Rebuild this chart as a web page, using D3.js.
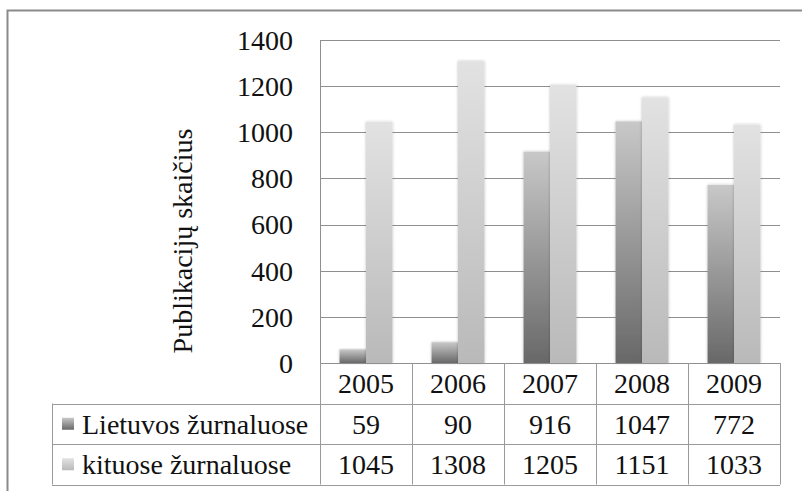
<!DOCTYPE html>
<html>
<head>
<meta charset="utf-8">
<script src="https://cdn.jsdelivr.net/npm/d3@7"></script>
<style>
  body { margin: 0; background: #fff; }
  text { font-family: "Liberation Serif", "DejaVu Serif", serif; fill: #111; }
</style>
</head>
<body>
<div id="main"></div>
<script>
var years = ["2005", "2006", "2007", "2008", "2009"];
var seriesNames = ["Lietuvos žurnaluose", "kituose žurnaluose"];
var lietuvos = [59, 90, 916, 1047, 772];
var kituose = [1045, 1308, 1205, 1151, 1033];
var yTicks = [0, 200, 400, 600, 800, 1000, 1200, 1400];
var yTitle = "Publikacijų skaičius";

var width = 802, height = 491;
var plotLeft = 320, plotRight = 780, plotTop = 40, base = 363;
var rowH = 40.5;
var fs = "28px";

var svg = d3.select("#main")
  .append("svg")
  .attr("width", width)
  .attr("height", height);

// gradients for the two series
var defs = svg.append("defs");
var grads = [["g0", "#c8c8c8", "#686868"], ["g1", "#e2e2e2", "#b9b9b9"]];
grads.forEach(function(g) {
  var lg = defs.append("linearGradient")
    .attr("id", g[0]).attr("x1", 0).attr("y1", 0).attr("x2", 0).attr("y2", 1);
  lg.append("stop").attr("offset", "0%").attr("stop-color", g[1]);
  lg.append("stop").attr("offset", "100%").attr("stop-color", g[2]);
});
var f = defs.append("filter").attr("id", "soft")
  .attr("x", "-30%").attr("y", "-10%").attr("width", "160%").attr("height", "120%");
f.append("feGaussianBlur").attr("in", "SourceAlpha").attr("stdDeviation", 1.5).attr("result", "b");
f.append("feComponentTransfer").attr("in", "b").attr("result", "s")
  .append("feFuncA").attr("type", "linear").attr("slope", 0.25);
var fm = f.append("feMerge");
fm.append("feMergeNode").attr("in", "s");
fm.append("feMergeNode").attr("in", "SourceGraphic");

// outer chart border
svg.append("rect")
  .attr("x", 7.5).attr("y", 10.5)
  .attr("width", 802).attr("height", 500)
  .attr("fill", "none")
  .attr("stroke", "#8a8a8a")
  .attr("stroke-width", 2);

var y = d3.scaleLinear().domain([0, 1400]).range([base, plotTop]);
var x0 = d3.scaleBand().domain(years).range([plotLeft, plotRight]);
var x1 = d3.scaleBand().domain([0, 1]).range([0, x0.bandwidth()]).paddingOuter(0.74);

// gridlines
svg.append("g").selectAll("line")
  .data(yTicks.slice(1))
  .enter().append("line")
  .attr("x1", plotLeft).attr("x2", plotRight)
  .attr("y1", function(d) { return Math.round(y(d)) + 0.5; })
  .attr("y2", function(d) { return Math.round(y(d)) + 0.5; })
  .attr("stroke", "#8f8f8f");

// y axis line
svg.append("line")
  .attr("x1", plotLeft + 0.5).attr("x2", plotLeft + 0.5)
  .attr("y1", plotTop).attr("y2", base)
  .attr("stroke", "#8f8f8f");

// tick labels
svg.append("g").selectAll("text")
  .data(yTicks)
  .enter().append("text")
  .attr("x", 293)
  .attr("y", function(d) { return y(d); })
  .attr("dy", "0.35em")
  .attr("text-anchor", "end")
  .style("font-size", fs)
  .text(function(d) { return d; });

// axis title
svg.append("text")
  .attr("transform", "translate(192,241) rotate(-90)")
  .attr("text-anchor", "middle")
  .style("font-size", fs)
  .text(yTitle);

// bars
var rows = [lietuvos, kituose];
rows.forEach(function(vals, si) {
  svg.append("g").selectAll("rect")
    .data(vals)
    .enter().append("rect")
    .attr("x", function(d, i) { return x0(years[i]) + x1(si); })
    .attr("width", x1.bandwidth())
    .attr("y", function(d) { return y(d); })
    .attr("height", function(d) { return base - y(d); })
    .attr("fill", "url(#g" + si + ")")
    .attr("filter", "url(#soft)");
});

// baseline
svg.append("line")
  .attr("x1", plotLeft).attr("x2", plotRight)
  .attr("y1", base + 0.5).attr("y2", base + 0.5)
  .attr("stroke", "#8f8f8f");

// data table
var tbl = svg.append("g").attr("stroke", "#9a9a9a").attr("fill", "none");
var tableLeft = 52;
[1, 2, 3].forEach(function(r) {
  tbl.append("line").attr("x1", tableLeft).attr("x2", plotRight)
    .attr("y1", Math.round(base + r * rowH) + 0.5)
    .attr("y2", Math.round(base + r * rowH) + 0.5);
});
tbl.append("line").attr("x1", tableLeft + 0.5).attr("x2", tableLeft + 0.5)
  .attr("y1", base + rowH).attr("y2", base + 3 * rowH);
tbl.selectAll("line.v")
  .data(years.concat(["end"]))
  .enter().append("line")
  .attr("class", "v")
  .attr("x1", function(d) { return Math.round(d == "end" ? plotRight : x0(d)) + 0.5; })
  .attr("x2", function(d) { return Math.round(d == "end" ? plotRight : x0(d)) + 0.5; })
  .attr("y1", base).attr("y2", base + 3 * rowH);

// header years
svg.append("g").selectAll("text")
  .data(years)
  .enter().append("text")
  .attr("x", function(d) { return x0(d) + x0.bandwidth() / 2; })
  .attr("y", base + rowH / 2)
  .attr("dy", "0.35em")
  .attr("text-anchor", "middle")
  .style("font-size", fs)
  .text(function(d) { return d; });

rows.forEach(function(vals, si) {
  var cy = base + rowH * (si + 1) + rowH / 2;
  svg.append("g").selectAll("text")
    .data(vals)
    .enter().append("text")
    .attr("x", function(d, i) { return x0(years[i]) + x0.bandwidth() / 2; })
    .attr("y", cy)
    .attr("dy", "0.35em")
    .attr("text-anchor", "middle")
    .style("font-size", fs)
    .text(function(d) { return d; });
  // legend key
  svg.append("rect")
    .attr("x", 62).attr("y", cy - 6)
    .attr("width", 12).attr("height", 12)
    .attr("fill", "url(#g" + si + ")");
  svg.append("text")
    .attr("x", 82).attr("y", cy)
    .attr("dy", "0.35em")
    .style("font-size", fs)
    .text(seriesNames[si]);
});
</script>
</body>
</html>
